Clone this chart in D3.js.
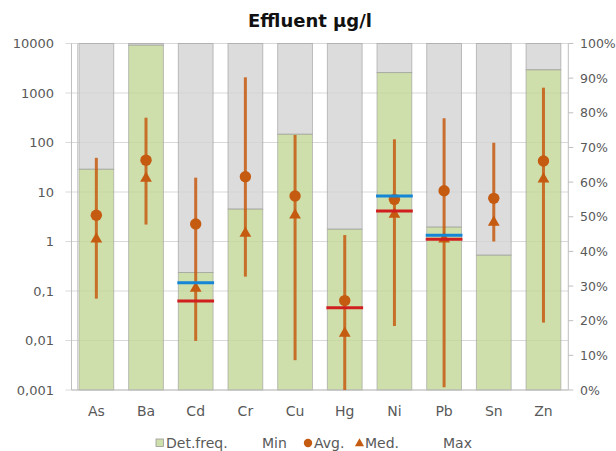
<!DOCTYPE html>
<html><head><meta charset="utf-8">
<script src="https://cdn.jsdelivr.net/npm/d3@7"></script>
<style>
html,body{margin:0;padding:0;background:#fff;}
text{font-family:"DejaVu Sans",sans-serif;}
</style></head>
<body><svg id="c" width="616" height="451"></svg>
<script>
const categories = ["As","Ba","Cd","Cr","Cu","Hg","Ni","Pb","Sn","Zn"];
const detFreq = [63.7, 99.5, 33.9, 52.2, 73.8, 46.4, 91.6, 47.0, 38.9, 92.4];
const minVals = [0.07, 2.2, 0.0098, 0.195, 0.004, 0.001, 0.0196, 0.00114, 1.0, 0.023];
const avgVals = [3.4, 44, 2.26, 20.4, 8.3, 0.064, 7.1, 10.6, 7.45, 42.3];
const medVals = [1.12, 18.9, 0.113, 1.46, 3.43, 0.014, 3.54, 1.12, 2.44, 18.3];
const maxVals = [49, 317, 19.5, 2075, 142, 1.35, 116, 308, 99, 1280];
const limitBlue = [null, null, 0.147, null, null, null, 8.3, 1.33, null, null];
const limitRed = [null, null, 0.063, null, null, 0.046, 4.13, 1.11, null, null];
const leftTicks = [0.001, 0.01, 0.1, 1, 10, 100, 1000, 10000];
const leftTickLabels = ["0,001", "0,01", "0,1", "1", "10", "100", "1000", "10000"];
const rightTicks = [0, 10, 20, 30, 40, 50, 60, 70, 80, 90, 100];
const rightTickLabels = ["0%", "10%", "20%", "30%", "40%", "50%", "60%", "70%", "80%", "90%", "100%"];
const legendLabels = ["Det.freq.", "Min", "Avg.", "Med.", "Max"];
const title = "Effluent µg/l";

const svg = d3.select("#c");
const L = 71.5, R = 568.3, T = 43.5, B = 390;
const x = d3.scaleBand().domain(categories).range([L, R]).paddingInner(0.3).paddingOuter(0.15);
const y = d3.scaleLog().domain([0.001, 10000]).range([B, T]);
const yp = d3.scaleLinear().domain([0, 100]).range([B, T]);
const orange = "#c55a11", grid = "#d9d9d9", axisC = "#bfbfbf", txt = "#595959";

// title
svg.append("text").attr("x", 310).attr("y", 27).attr("text-anchor", "middle")
  .attr("font-size", 18).attr("font-weight", "bold").attr("fill", "#111").text(title);

// gridlines
svg.append("g").selectAll("line").data(leftTicks).join("line")
  .attr("x1", L - 6).attr("x2", R).attr("y1", d => y(d)).attr("y2", d => y(d))
  .attr("stroke", grid).attr("stroke-width", 1);

// stacked bars: detection freq + remainder
const bars = svg.append("g");
categories.forEach((c, i) => {
  bars.append("rect").attr("x", x(c)).attr("width", x.bandwidth())
    .attr("y", yp(100)).attr("height", yp(detFreq[i]) - yp(100))
    .attr("fill", "#d3d3d3").attr("fill-opacity", 0.8)
    .attr("stroke", "#9a9a9a").attr("stroke-opacity", 0.6);
  bars.append("rect").attr("x", x(c)).attr("width", x.bandwidth())
    .attr("y", yp(detFreq[i])).attr("height", yp(0) - yp(detFreq[i]))
    .attr("fill", "#c3d797").attr("fill-opacity", 0.8)
    .attr("stroke", "#9a9a9a").attr("stroke-opacity", 0.6);
});

// axes lines
svg.append("line").attr("x1", L).attr("x2", L).attr("y1", T).attr("y2", B).attr("stroke", axisC);
svg.append("line").attr("x1", L + 6).attr("x2", L + 6).attr("y1", T).attr("y2", B).attr("stroke", "#d0d0d0");
svg.append("line").attr("x1", R).attr("x2", R).attr("y1", T).attr("y2", B).attr("stroke", axisC);
svg.append("line").attr("x1", L).attr("x2", R).attr("y1", B).attr("y2", B).attr("stroke", axisC);
svg.append("g").selectAll("line").data(rightTicks).join("line")
  .attr("x1", R).attr("x2", R + 5).attr("y1", d => yp(d)).attr("y2", d => yp(d)).attr("stroke", axisC);

// axis labels
svg.append("g").selectAll("text").data(leftTicks).join("text")
  .attr("x", 54).attr("y", d => y(d)).attr("dy", "0.36em").attr("text-anchor", "end")
  .attr("font-size", 13).attr("fill", txt).text((d, i) => leftTickLabels[i]);
svg.append("g").selectAll("text").data(rightTicks).join("text")
  .attr("x", 580).attr("y", d => yp(d)).attr("dy", "0.36em").attr("text-anchor", "start")
  .attr("font-size", 12.5).attr("font-family", "'Liberation Sans', Arial, sans-serif")
  .attr("fill", txt).text((d, i) => rightTickLabels[i]);
svg.append("g").selectAll("text").data(categories).join("text")
  .attr("x", d => x(d) + x.bandwidth() / 2).attr("y", 416).attr("text-anchor", "middle")
  .attr("font-size", 14).attr("fill", txt).text(d => d);

// min-max lines
const cx = c => x(c) + x.bandwidth() / 2;
svg.append("g").selectAll("line").data(categories).join("line")
  .attr("x1", cx).attr("x2", cx)
  .attr("y1", (d, i) => y(minVals[i])).attr("y2", (d, i) => y(maxVals[i]))
  .attr("stroke", orange).attr("stroke-opacity", 0.85).attr("stroke-width", 3);
// markers
svg.append("g").selectAll("circle").data(categories).join("circle")
  .attr("cx", cx).attr("cy", (d, i) => y(avgVals[i])).attr("r", 5.7).attr("fill", orange);
const tri = d3.symbol().type(d3.symbolTriangle).size(60);
svg.append("g").selectAll("path").data(categories).join("path")
  .attr("d", tri).attr("transform", (d, i) => `translate(${cx(d)},${y(medVals[i])})`).attr("fill", orange);

// limit lines
function limits(arr, color) {
  svg.append("g").selectAll("line").data(categories.filter((c, i) => arr[i] != null)).join("line")
    .attr("x1", d => x(d) - 1).attr("x2", d => x(d) + x.bandwidth() + 1)
    .attr("y1", d => y(arr[categories.indexOf(d)])).attr("y2", d => y(arr[categories.indexOf(d)]))
    .attr("stroke", color).attr("stroke-width", 3);
}
limits(limitBlue, "#1585d6");
limits(limitRed, "#d01f1f");

// legend
const lg = svg.append("g").attr("font-size", 14).attr("fill", txt);
lg.append("rect").attr("x", 156).attr("y", 439).attr("width", 7.5).attr("height", 7.5)
  .attr("fill", "#cfdfac").attr("stroke", "#9a9a9a").attr("stroke-width", 0.8);
lg.append("text").attr("x", 166).attr("y", 448).text(legendLabels[0]);
lg.append("text").attr("x", 262).attr("y", 448).text(legendLabels[1]);
lg.append("circle").attr("cx", 308).attr("cy", 443).attr("r", 4.2).attr("fill", orange);
lg.append("text").attr("x", 314).attr("y", 448).text(legendLabels[2]);
lg.append("path").attr("d", d3.symbol().type(d3.symbolTriangle).size(36))
  .attr("transform", "translate(359.5,443.5)").attr("fill", orange);
lg.append("text").attr("x", 365).attr("y", 448).text(legendLabels[3]);
lg.append("text").attr("x", 443).attr("y", 448).text(legendLabels[4]);
</script></body></html>
